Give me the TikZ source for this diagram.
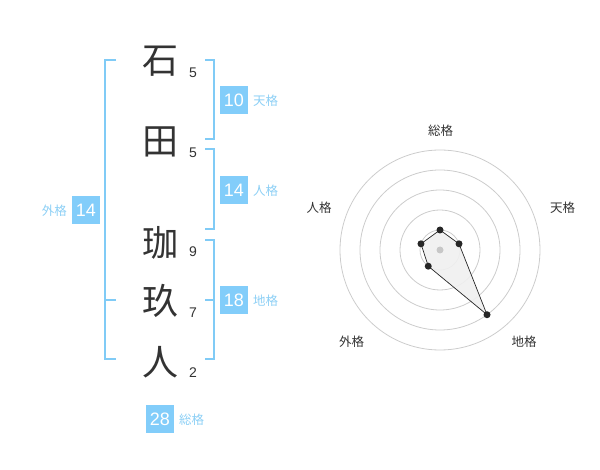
\documentclass[tikz,border=0pt]{standalone}
\usepackage{fontspec}
\setmainfont{Liberation Sans}
\newfontfamily\cjk{Noto Sans CJK JP}
\definecolor{brk}{HTML}{80CBF6}
\definecolor{boxc}{HTML}{82CDFA}
\definecolor{lblc}{HTML}{8CCFF5}
\definecolor{txt}{HTML}{333333}
\definecolor{ringc}{HTML}{CCCCCC}
\begin{document}
\begin{tikzpicture}[x=1pt,y=-1pt]
\useasboundingbox (0,0) rectangle (600,470);
\tikzset{
  kanji/.style={font=\cjk\fontsize{36}{36}\selectfont, text=txt, inner sep=0},
  strokes/.style={font=\fontsize{14}{14}\selectfont, text=txt, inner sep=0},
  valbox/.style={fill=boxc, text=white, minimum width=28, minimum height=28, inner sep=0, font=\fontsize{18}{18}\selectfont},
  lbl/.style={text=lblc, font=\cjk\fontsize{12.5}{12.5}\selectfont, inner sep=0},
  brack/.style={draw=brk, line width=2},
  ring/.style={draw=ringc, line width=0.8},
  axislbl/.style={text=txt, font=\cjk\fontsize{12.5}{12.5}\selectfont, inner sep=0},
  vdot/.style={circle, fill=black!85, inner sep=0, minimum size=7},
}
% name characters
\node[kanji] (c1) at (160,61) {石};
\node[kanji] (c2) at (160,142) {田};
\node[kanji] (c3) at (160,243) {珈};
\node[kanji] (c4) at (160,301) {玖};
\node[kanji] (c5) at (160,362) {人};
% stroke counts
\node[strokes] (s1) at (193,73) {5};
\node[strokes] (s2) at (193,153) {5};
\node[strokes] (s3) at (193,252) {9};
\node[strokes] (s4) at (193,313) {7};
\node[strokes] (s5) at (193,373) {2};
% brackets
\draw[brack] (116,60) -- (105,60) -- (105,359) -- (116,359);
\draw[brack] (105,300) -- (116,300);
\draw[brack] (205,60) -- (214,60) -- (214,139) -- (205,139);
\draw[brack] (205,149) -- (214,149) -- (214,229) -- (205,229);
\draw[brack] (205,240) -- (214,240) -- (214,359) -- (205,359);
\draw[brack] (205,300) -- (214,300);
% value boxes
\node[valbox] (ten) at (234,100) {10};
\node[lbl, anchor=west] (tenl) at (253,101) {天格};
\node[valbox] (jin) at (234,190) {14};
\node[lbl, anchor=west] (jinl) at (253,191) {人格};
\node[valbox] (chi) at (234,300) {18};
\node[lbl, anchor=west] (chil) at (253,301) {地格};
\node[valbox] (gai) at (86,210) {14};
\node[lbl, anchor=east] (gail) at (67,211) {外格};
\node[valbox] (sou) at (160,419) {28};
\node[lbl, anchor=west] (soul) at (179,420) {総格};
% radar chart
\begin{scope}[shift={(440,250)}, y=1pt]
  \foreach \r in {20,40,60,80,100} \draw[ring] (0,0) circle[radius=\r];
  \fill[black!6, opacity=0.9] (90:20) -- (18:20) -- (-54:80) -- (-126:20) -- (162:20) -- cycle;
  \node[circle, fill=black!22, inner sep=0, minimum size=7] (ctr) at (0,0) {};
  \node[vdot] (pz) at (90:20) {};
  \node[vdot] (pt) at (18:20) {};
  \node[vdot] (pc) at (-54:80) {};
  \node[vdot] (pg) at (-126:20) {};
  \node[vdot] (pj) at (162:20) {};
  \draw[black!85, line width=0.7] (pz.center) -- (pt.center) -- (pc.center) -- (pg.center) -- (pj.center) -- cycle;
\end{scope}
\node[axislbl] (az) at (440.5,130.5) {総格};
\node[axislbl] (at) at (562.5,208) {天格};
\node[axislbl] (ac) at (524,342) {地格};
\node[axislbl] (ag) at (351.5,342) {外格};
\node[axislbl] (aj) at (319,208) {人格};
\end{tikzpicture}
\end{document}
